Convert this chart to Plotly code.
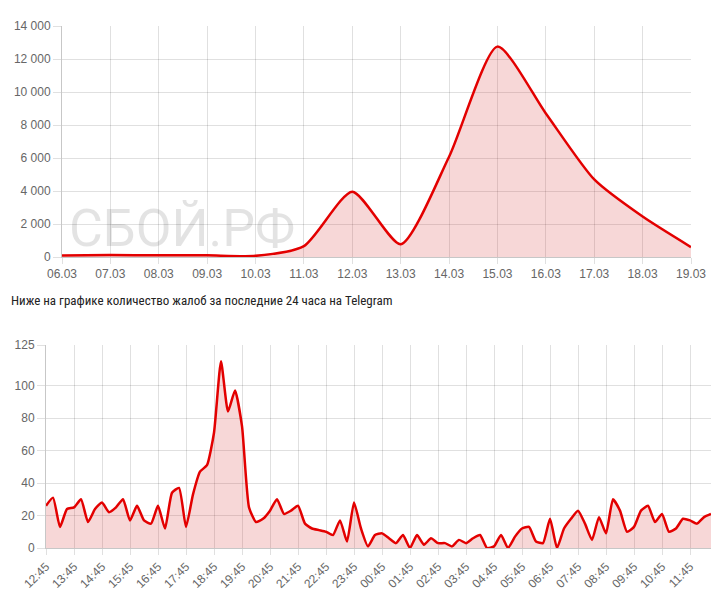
import plotly.graph_objects as go

# ---- Top chart: complaints per day ----
days = ["06.03", "07.03", "08.03", "09.03", "10.03", "11.03", "12.03",
        "13.03", "14.03", "15.03", "16.03", "17.03", "18.03", "19.03"]
daily_counts = [90, 120, 100, 100, 70, 660, 3960, 770, 6080, 12750, 8700, 4700, 2450, 600]
top_yticks = [0, 2000, 4000, 6000, 8000, 10000, 12000, 14000]
top_yticktext = ["0", "2 000", "4 000", "6 000", "8 000", "10 000", "12 000", "14 000"]

# ---- Bottom chart: complaints per 15 minutes, last 24 hours ----
times = [
    "12:45", "13:00", "13:15", "13:30", "13:45", "14:00", "14:15", "14:30",
    "14:45", "15:00", "15:15", "15:30", "15:45", "16:00", "16:15", "16:30",
    "16:45", "17:00", "17:15", "17:30", "17:45", "18:00", "18:15", "18:30",
    "18:45", "19:00", "19:15", "19:30", "19:45", "20:00", "20:15", "20:30",
    "20:45", "21:00", "21:15", "21:30", "21:45", "22:00", "22:15", "22:30",
    "22:45", "23:00", "23:15", "23:30", "23:45", "00:00", "00:15", "00:30",
    "00:45", "01:00", "01:15", "01:30", "01:45", "02:00", "02:15", "02:30",
    "02:45", "03:00", "03:15", "03:30", "03:45", "04:00", "04:15", "04:30",
    "04:45", "05:00", "05:15", "05:30", "05:45", "06:00", "06:15", "06:30",
    "06:45", "07:00", "07:15", "07:30", "07:45", "08:00", "08:15", "08:30",
    "08:45", "09:00", "09:15", "09:30", "09:45", "10:00", "10:15", "10:30",
    "10:45", "11:00", "11:15", "11:30", "11:45", "12:00", "12:15", "12:30",
]
counts_15min = [
    26, 31, 13, 24, 25, 30, 16, 24, 28, 22, 25, 30, 17, 26, 17, 15,
    26, 12, 34, 37, 13, 33, 47, 51, 71, 115, 84, 97, 75, 25, 16, 18,
    23, 30, 21, 23, 26, 15, 12, 11, 10, 8, 17, 4, 28, 12, 1, 8,
    9, 6, 3, 8, 0, 8, 2, 6, 3, 3, 1, 5, 3, 6, 8, 0,
    1, 8, 0, 7, 12, 13, 4, 3, 18, 0, 12, 18, 23, 15, 5, 19,
    9, 30, 23, 10, 13, 23, 26, 16, 21, 10, 12, 18, 17, 15, 19, 21,
]
bottom_tickvals = ["12:45", "13:45", "14:45", "15:45", "16:45", "17:45", "18:45",
                   "19:45", "20:45", "21:45", "22:45", "23:45", "00:45", "01:45",
                   "02:45", "03:45", "04:45", "05:45", "06:45", "07:45", "08:45",
                   "09:45", "10:45", "11:45"]
bottom_yticks = [0, 20, 40, 60, 80, 100, 125]

title_text = "Ниже на графике количество жалоб за последние 24 часа на Telegram"
watermark = "СБОЙ.РФ"

# page has an 8px body margin: the figure is offset by (8, 8) in the window
OFF = 8
W, H = 728 - OFF, 593 - OFF
LINE = "#e30000"
FILL = "rgba(210,40,40,0.19)"
GRID = "rgba(0,0,0,0.12)"
AXIS = "rgba(0,0,0,0.22)"
TICKFONT = dict(family="Liberation Sans, Arial, sans-serif", size=12, color="#666666")

fig = go.Figure()

fig.add_trace(go.Scatter(
    x=days, y=daily_counts, mode="lines",
    line=dict(color=LINE, width=2.5, shape="spline", smoothing=0.65),
    fill="tozeroy", fillcolor=FILL, xaxis="x", yaxis="y",
    hoverinfo="x+y", showlegend=False,
))
fig.add_trace(go.Scatter(
    x=times, y=counts_15min, mode="lines",
    line=dict(color=LINE, width=2.5, shape="spline", smoothing=0.5),
    fill="tozeroy", fillcolor=FILL, xaxis="x2", yaxis="y2",
    hoverinfo="x+y", showlegend=False,
))


def px_x(p):
    return (p - OFF) / W


def px_y(p):
    return (H - (p - OFF)) / H


common = dict(
    showgrid=True, gridcolor=GRID, gridwidth=1,
    tickcolor=GRID, showline=True, linecolor=AXIS, linewidth=1,
    tickfont=TICKFONT, zeroline=False, automargin=False, fixedrange=True,
)

fig.update_layout(
    width=W, height=H,
    margin=dict(l=0, r=0, t=0, b=0, autoexpand=False),
    paper_bgcolor="white", plot_bgcolor="white",
    xaxis=dict(
        domain=[px_x(62), px_x(691)], anchor="y",
        type="category", categoryorder="array", categoryarray=days,
        range=[0, len(days) - 1],
        ticks="outside", ticklen=6, tickangle=0, **common,
    ),
    yaxis=dict(
        domain=[px_y(257), px_y(26)], anchor="x",
        range=[0, 14000],
        tickvals=top_yticks, ticktext=top_yticktext,
        ticks="outside", ticklen=8, **common,
    ),
    xaxis2=dict(
        domain=[px_x(46), px_x(711)], anchor="y2",
        type="category", categoryorder="array", categoryarray=times,
        range=[0, len(times) - 1],
        tickvals=bottom_tickvals, ticktext=bottom_tickvals,
        ticks="outside", ticklen=6, tickangle=-45, **common,
    ),
    yaxis2=dict(
        domain=[px_y(548), px_y(345)], anchor="x2",
        range=[0, 125],
        tickvals=bottom_yticks,
        ticks="outside", ticklen=8, **common,
    ),
    annotations=[
        dict(
            text=watermark, xref="paper", yref="paper",
            x=px_x(182), y=px_y(228), xanchor="center", yanchor="middle",
            showarrow=False,
            font=dict(family="Roboto, Liberation Sans, sans-serif", size=52, color="rgba(0,0,0,0.11)"),
        ),
        dict(
            text=title_text, xref="paper", yref="paper",
            x=px_x(9), y=px_y(300), xanchor="left", yanchor="middle",
            showarrow=False,
            font=dict(family="Roboto Condensed, Roboto, sans-serif", size=13, color="#222222"),
        ),
    ],
)

fig.write_html("out.html")
